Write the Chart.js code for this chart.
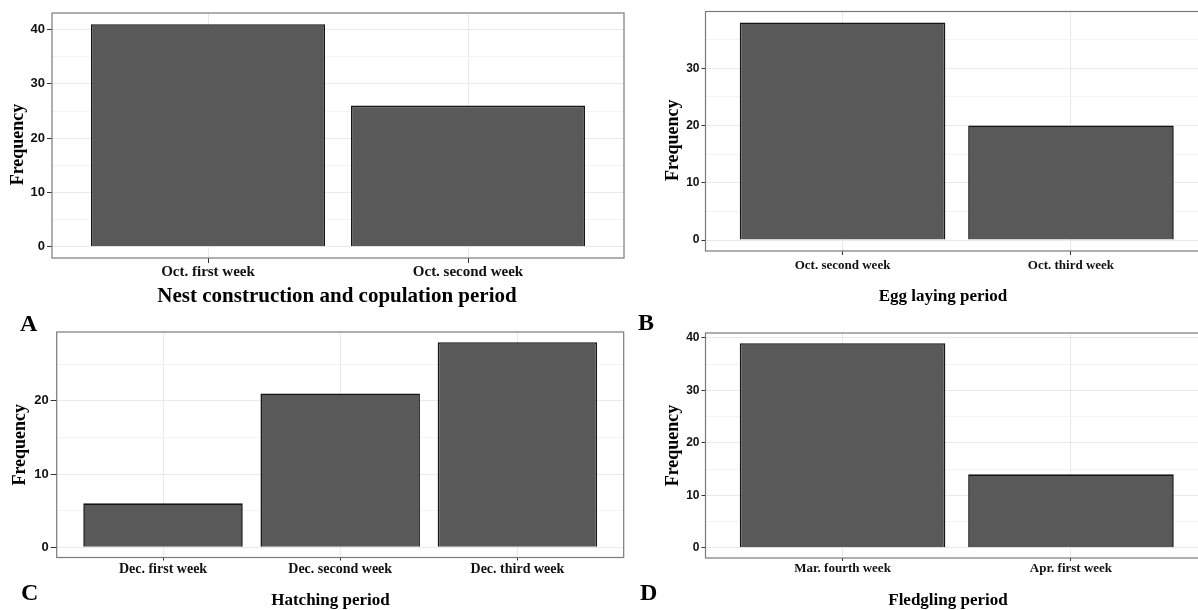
<!DOCTYPE html>
<html><head><meta charset="utf-8">
<script src="https://cdn.jsdelivr.net/npm/chart.js@4.4.1/dist/chart.umd.min.js"></script>
<style>
html,body{margin:0;padding:0;background:#fff;overflow:hidden;width:1198px;height:610px;position:relative}
canvas{position:absolute}
.lab{position:absolute;font-family:'Liberation Serif','Times New Roman',serif;font-weight:bold;font-size:24px;line-height:24px;color:#000}
</style></head><body>
<canvas id="cA" width="674" height="310" style="left:0px;top:0px"></canvas>
<canvas id="cB" width="586" height="310" style="left:650px;top:0px"></canvas>
<canvas id="cC" width="661" height="302" style="left:0px;top:310px"></canvas>
<canvas id="cD" width="596" height="302" style="left:650px;top:310px"></canvas>
<div class="lab" style="left:20px;top:311px">A</div>
<div class="lab" style="left:638px;top:310px">B</div>
<div class="lab" style="left:21px;top:580px">C</div>
<div class="lab" style="left:640px;top:580px">D</div>
<script>
// ---- data ----
const categoriesA = ["Oct. first week", "Oct. second week"];
const valuesA = [41, 26];
const titleA = "Nest construction and copulation period";
const yTicksA = [0, 10, 20, 30, 40];
const yMinorA = [5, 15, 25, 35];

const categoriesB = ["Oct. second week", "Oct. third week"];
const valuesB = [38, 20];
const titleB = "Egg laying period";
const yTicksB = [0, 10, 20, 30];
const yMinorB = [5, 15, 25, 35];

const categoriesC = ["Dec. first week", "Dec. second week", "Dec. third week"];
const valuesC = [6, 21, 28];
const titleC = "Hatching period";
const yTicksC = [0, 10, 20];
const yMinorC = [5, 15, 25];

const categoriesD = ["Mar. fourth week", "Apr. first week"];
const valuesD = [39, 14];
const titleD = "Fledgling period";
const yTicksD = [0, 10, 20, 30, 40];
const yMinorD = [5, 15, 25, 35];

const yAxisTitle = "Frequency";

// ---- styling ----
const SERIF = "'Liberation Serif','Times New Roman',serif";
const SANS = "'Liberation Sans',Arial,sans-serif";
const NARROW = "'Liberation Sans Narrow','Liberation Sans',Arial,sans-serif";

const frame = {
  id: 'frame',
  afterDatasetsDraw(chart) {
    const {ctx, chartArea: a} = chart;
    ctx.save();
    ctx.strokeStyle = '#7a7a7a';
    ctx.lineWidth = 1.2;
    ctx.strokeRect(a.left, a.top, a.right - a.left, a.bottom - a.top);
    ctx.restore();
  }
};

function panel(id, g, cats, vals, yMajor, yMinor, title) {
  const W = g.cw, H = g.ch;
  const titleTop = g.titleCY - g.titleFs * 0.6 - g.ct;
  const xh = titleTop - (g.aB - g.ct);
  const padBottom = H - titleTop - g.titleFs * 1.2;
  const spacer = (g.cl + W) - g.aR;
  new Chart(document.getElementById(id), {
    type: 'bar',
    data: {
      datasets: [{
        data: vals.map((v, i) => ({x: i + 1, y: v})),
        backgroundColor: '#595959',
        borderColor: '#141414',
        borderWidth: 1.6,
        barPercentage: 0.9,
        categoryPercentage: 1.0
      }]
    },
    options: {
      responsive: false,
      animation: false,
      devicePixelRatio: 1,
      layout: {autoPadding: false, padding: {left: 0, top: g.aT - g.ct, right: 0, bottom: padBottom}},
      plugins: {
        legend: {display: false},
        tooltip: {enabled: false},
        title: {
          display: true, position: 'bottom', text: title, color: '#000', padding: 0,
          font: {family: SERIF, weight: 'bold', size: g.titleFs, lineHeight: 1.2}
        }
      },
      scales: {
        x: {
          type: 'linear', min: 0.4, max: cats.length + 0.6, offset: false,
          afterBuildTicks: s => { s.ticks = cats.map((c, i) => ({value: i + 1})); },
          afterFit: s => { s.height = xh; },
          ticks: {
            callback: v => cats[v - 1], color: '#111', padding: g.xPad,
            maxRotation: 0, autoSkip: false,
            font: {family: SERIF, weight: 'bold', size: g.xFs, lineHeight: 1.2}
          },
          grid: {color: '#e9e9e9', lineWidth: 1, tickLength: g.xTl, tickColor: '#333', offset: false},
          border: {display: false}
        },
        y: {
          type: 'linear', min: g.yMin, max: g.yMax,
          afterBuildTicks: s => { s.ticks = yMajor.concat(yMinor).sort((a, b) => a - b).map(v => ({value: v})); },
          afterFit: s => { s.width = g.aL - g.cl; },
          ticks: {
            callback: v => yMajor.includes(v) ? String(v) : '',
            color: '#111', padding: g.yPad,
            font: {family: g.yFont, weight: 'bold', size: g.yFs, lineHeight: 1.2}
          },
          grid: {
            color: c => (c.tick && yMinor.includes(c.tick.value)) ? '#f4f4f4' : '#e9e9e9',
            tickColor: c => (c.tick && yMinor.includes(c.tick.value)) ? 'rgba(0,0,0,0)' : '#333',
            tickLength: g.yTl, lineWidth: 1
          },
          border: {display: false},
          title: {
            display: true, text: yAxisTitle + g.yTitleTrail, color: '#000',
            padding: {top: g.yTitlePad, bottom: 0},
            font: {family: SERIF, weight: 'bold', size: 18, lineHeight: 1.2}
          }
        },
        ySpacer: {
          type: 'linear', position: 'right', display: true, min: 0, max: 1,
          grid: {display: false, drawTicks: false},
          ticks: {display: false},
          border: {display: false},
          afterFit: s => { s.width = spacer; }
        }
      }
    },
    plugins: [frame]
  });
}

panel('cA', {cl: 0, ct: 0, cw: 674, ch: 310, aL: 52, aT: 13, aR: 624, aB: 258,
  yMin: -2.05, yMax: 43.05, titleCY: 297, titleFs: 21, xTl: 5, xPad: 0, xFs: 15,
  yTl: 5, yPad: 2, yFs: 13, yFont: SANS, yTitlePad: 7.5, yTitleTrail: '    '},
  categoriesA, valuesA, yTicksA, yMinorA, titleA);

panel('cB', {cl: 650, ct: 0, cw: 586, ch: 310, aL: 705.5, aT: 11.5, aR: 1208, aB: 251,
  yMin: -1.9, yMax: 39.9, titleCY: 297, titleFs: 17, xTl: 4, xPad: 3, xFs: 13,
  yTl: 4, yPad: 2, yFs: 12, yFont: NARROW, yTitlePad: 12.7, yTitleTrail: '    '},
  categoriesB, valuesB, yTicksB, yMinorB, titleB);

panel('cC', {cl: 0, ct: 310, cw: 661, ch: 302, aL: 56.7, aT: 332, aR: 623.7, aB: 557.5,
  yMin: -1.4, yMax: 29.4, titleCY: 600.5, titleFs: 17, xTl: 3, xPad: 0, xFs: 14,
  yTl: 6, yPad: 2, yFs: 13, yFont: SANS, yTitlePad: 9.2, yTitleTrail: ''},
  categoriesC, valuesC, yTicksC, yMinorC, titleC);

panel('cD', {cl: 650, ct: 310, cw: 596, ch: 302, aL: 705.5, aT: 333, aR: 1208, aB: 558,
  yMin: -1.95, yMax: 40.95, titleCY: 600.5, titleFs: 17, xTl: 3, xPad: 0, xFs: 13,
  yTl: 4, yPad: 2, yFs: 12, yFont: NARROW, yTitlePad: 12.7, yTitleTrail: ''},
  categoriesD, valuesD, yTicksD, yMinorD, titleD);
</script>
</body></html>
